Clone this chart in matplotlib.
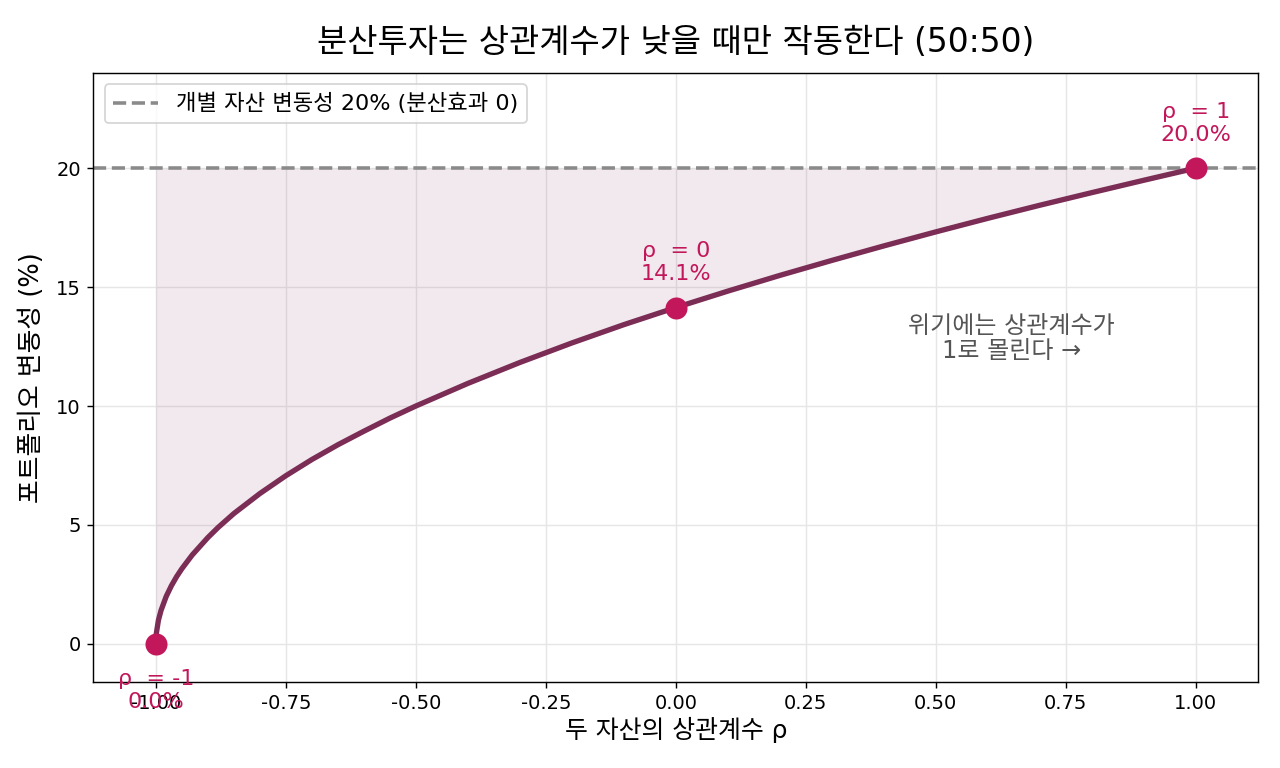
import matplotlib.pyplot as plt
import numpy as np

plt.rcParams['font.family'] = ['DejaVu Sans', 'Noto Sans CJK KR']
plt.rcParams['axes.unicode_minus'] = False

# 상관계수와 포트폴리오 변동성
rho = [-1.0, -0.999, -0.995, -0.99, -0.98, -0.97, -0.96, -0.95, -0.93, -0.9, -0.88, -0.85,
       -0.8, -0.75, -0.7, -0.65, -0.6, -0.55,
       -0.5, -0.4, -0.3, -0.2, -0.1, 0.0, 0.1, 0.2, 0.3, 0.4, 0.5, 0.6, 0.7, 0.8, 0.9, 1.0]
vol = [0.0, 0.45, 1.0, 1.41, 2.0, 2.45, 2.83, 3.16, 3.74, 4.47, 4.90, 5.48,
       6.32, 7.07, 7.75, 8.37, 8.94, 9.49,
       10.0, 10.95, 11.83, 12.65, 13.42, 14.14, 14.83, 15.49, 16.12, 16.73, 17.32, 17.89,
       18.44, 18.97, 19.49, 20.0]
asset_vol = 20.0

mark_rho = [-1.0, 0.0, 1.0]
mark_vol = [0.0, 14.14, 20.0]
mark_txt = ['ρ  = -1\n0.0%', 'ρ  = 0\n14.1%', 'ρ  = 1\n20.0%']

fig, ax = plt.subplots(figsize=(10, 6), dpi=128)
fig.subplots_adjust(left=0.073, right=0.983, top=0.905, bottom=0.112)

ax.fill_between(rho, vol, asset_vol, color='#7b2d55', alpha=0.1, linewidth=0)
ax.axhline(asset_vol, color='#8a8a8a', ls='--', lw=2, label='개별 자산 변동성 20% (분산효과 0)')
ax.plot(rho, vol, color='#7b2d55', lw=3, solid_capstyle='round')
ax.scatter(mark_rho, mark_vol, s=130, color='#c2185b', zorder=5)

for x, y, t in zip(mark_rho, mark_vol, mark_txt):
    if y == 0:
        ax.annotate(t, (x, y), xytext=(0, -14), textcoords='offset points',
                    ha='center', va='top', fontsize=12.5, color='#c2185b')
    else:
        ax.annotate(t, (x, y), xytext=(0, 13), textcoords='offset points',
                    ha='center', va='bottom', fontsize=12.5, color='#c2185b')

ax.text(0.645, 12.85, '위기에는 상관계수가\n1로 몰린다 →', ha='center', va='center',
        fontsize=13.5, color='#555555', linespacing=1.05)

ax.set_xlim(-1.12, 1.12)
ax.set_ylim(-1.6, 24)
ax.set_xticks([-1.0, -0.75, -0.5, -0.25, 0.0, 0.25, 0.5, 0.75, 1.0])
ax.set_xticklabels(['-1.00', '-0.75', '-0.50', '-0.25', '0.00', '0.25', '0.50', '0.75', '1.00'])
ax.set_yticks([0, 5, 10, 15, 20])
ax.tick_params(labelsize=11)
ax.grid(True, color='#e6e6e6', lw=0.8)
ax.set_axisbelow(True)

ax.set_xlabel('두 자산의 상관계수 ρ', fontsize=14, labelpad=2)
ax.set_ylabel('포트폴리오 변동성 (%)', fontsize=14.5, labelpad=6)
ax.set_title('분산투자는 상관계수가 낮을 때만 작동한다 (50:50)', fontsize=18.5, pad=12)
ax.legend(loc='upper left', fontsize=12.5)

fig.savefig('out.png', dpi=128)
